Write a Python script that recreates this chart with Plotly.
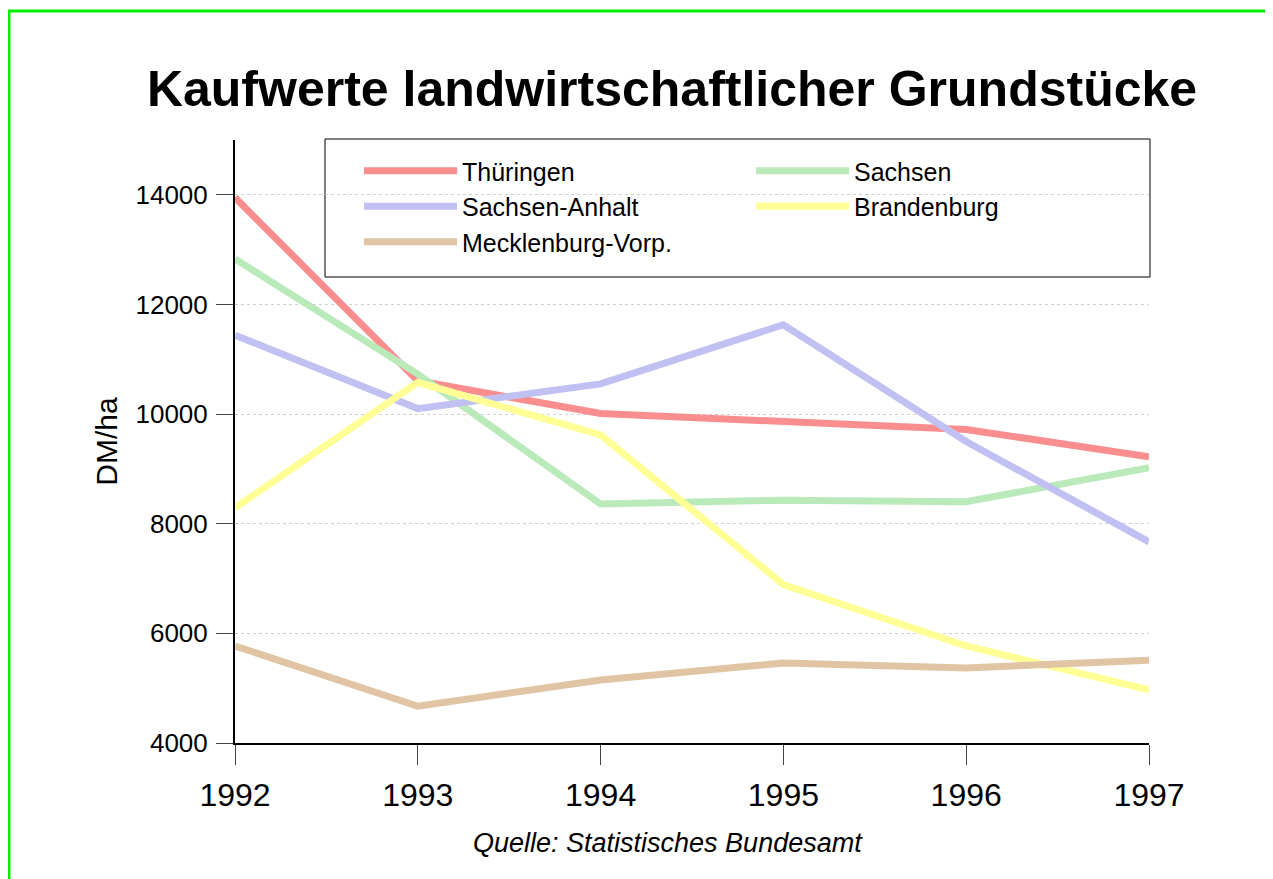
import plotly.graph_objects as go

years = [1992, 1993, 1994, 1995, 1996, 1997]
thueringen = [13950, 10610, 10010, 9860, 9720, 9220]
sachsen = [12830, 10730, 8360, 8430, 8400, 9020]
sachsen_anhalt = [11440, 10100, 10550, 11630, 9500, 7670]
brandenburg = [8290, 10580, 9620, 6890, 5770, 4970]
mecklenburg = [5770, 4670, 5150, 5460, 5370, 5510]

series_names = ["Thüringen", "Sachsen", "Sachsen-Anhalt", "Brandenburg", "Mecklenburg-Vorp."]
series_values = [thueringen, sachsen, sachsen_anhalt, brandenburg, mecklenburg]
series_colors = ["rgb(250,142,142)", "rgb(186,234,186)", "rgb(192,192,242)",
                 "rgb(255,255,150)", "rgb(224,196,164)"]
y_ticks = [4000, 6000, 8000, 10000, 12000, 14000]

fig = go.Figure()
for name, vals, col in zip(series_names, series_values, series_colors):
    fig.add_trace(go.Scatter(x=years, y=vals, name=name, mode="lines",
                             line=dict(color=col, width=7)))

# page has an 8px body margin; work in figure pixel coordinates
OFF = 8
W, H = 1265, 871
ml, mt = 235 - OFF, 140 - OFF
mr, mb = W - (1149 - OFF), H - (743 - OFF)
pw, ph = W - ml - mr, H - mt - mb

def px_x(x):
    return (x - OFF - ml) / pw

def px_y(y):
    return (H - mb - (y - OFF)) / ph

fig.update_layout(
    width=W, height=H,
    margin=dict(l=ml, r=mr, t=mt, b=mb, pad=0),
    paper_bgcolor="white", plot_bgcolor="white",
    font=dict(family="Liberation Sans, Arial, sans-serif", color="black"),
    title=dict(text="<b>Kaufwerte landwirtschaftlicher Grundstücke</b>",
               x=(672 - OFF) / W, xanchor="center", y=1 - (88 - OFF) / H, yanchor="middle",
               font=dict(size=50, color="black")),
    xaxis=dict(range=[1992, 1997], tickvals=years, ticktext=[str(y) for y in years],
               showgrid=False, zeroline=False, showline=True, linecolor="black", linewidth=2,
               ticks="outside", ticklen=20, tickwidth=1, tickcolor="#444",
               tickfont=dict(size=32), ticklabelstandoff=3),
    yaxis=dict(range=[4000, 15000], tickvals=y_ticks, ticktext=[str(v) for v in y_ticks],
               showgrid=True, gridcolor="#d0d0d0", griddash="dot", gridwidth=1,
               zeroline=False, showline=True, linecolor="black", linewidth=2,
               ticks="outside", ticklen=17, tickwidth=1, tickcolor="#444",
               tickfont=dict(size=26), ticklabelstandoff=3,
               title=dict(text="DM/ha", font=dict(size=30), standoff=9)),
    legend=dict(x=px_x(359), y=px_y(148), xanchor="left", yanchor="top",
                orientation="h", entrywidth=284, itemwidth=93,
                bgcolor="rgba(0,0,0,0)", borderwidth=0,
                font=dict(size=25), tracegroupgap=0),
    showlegend=True,
)

# legend frame
fig.add_shape(type="rect", xref="paper", yref="paper", layer="below",
              x0=px_x(325), x1=px_x(1150), y0=px_y(277), y1=px_y(139),
              line=dict(color="black", width=1), fillcolor="white")

fig.add_annotation(text="<i>Quelle: Statistisches Bundesamt</i>",
                   xref="paper", yref="paper", x=px_x(668), y=px_y(843),
                   xanchor="center", yanchor="middle", showarrow=False,
                   font=dict(size=27, color="black"))

green = "rgb(0,240,0)"
fig.add_shape(type="line", xref="paper", yref="paper",
              x0=px_x(9), x1=px_x(9), y0=px_y(10), y1=px_y(H + 40),
              line=dict(color=green, width=3))
fig.add_shape(type="line", xref="paper", yref="paper",
              x0=px_x(7.5), x1=px_x(W + 40), y0=px_y(11), y1=px_y(11),
              line=dict(color=green, width=3))

fig.write_html("out.html")
